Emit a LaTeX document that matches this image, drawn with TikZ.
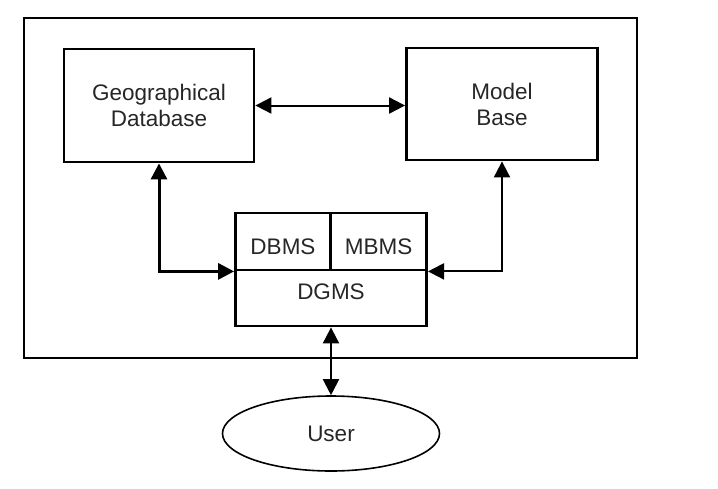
\documentclass[tikz,border=0pt]{standalone}
\usepackage{fontspec}
\setmainfont{Liberation Sans}
\usetikzlibrary{arrows.meta,shapes.geometric}
\begin{document}
\begin{tikzpicture}[x=1pt,y=-1pt,
  every node/.style={font=\fontsize{22.5}{26}\selectfont, text=black!85},
  box/.style={draw, line width=2.8pt, inner sep=0pt, align=center},
  arr/.style={line width=#1, {Triangle[length=16pt,width=16pt]}-{Triangle[length=16pt,width=16pt]}},
  arr/.default=2pt]
\useasboundingbox (0,0) rectangle (718,488);
\draw[line width=2.5pt] (24,18) rectangle (637,358);
\node[box, minimum width=190pt, minimum height=113pt] (geo) at (159,105.5) {Geographical\\Database};
\node[box, minimum width=191pt, minimum height=112pt] (model) at (502,104) {Model\\Base};
\node[box, minimum width=95pt, minimum height=57pt] (dbms) at (283,241.5) {};
\node[box, minimum width=96pt, minimum height=57pt] (mbms) at (378.6,241.5) {};
\node[box, minimum width=191pt, minimum height=56pt] (dgms) at (331,298) {};
\node[inner sep=0pt] (dbmstext) at (283,247) {DBMS};
\node[inner sep=0pt] (mbmstext) at (378.6,247) {MBMS};
\node[inner sep=0pt] (dgmstext) at (331,292) {DGMS};
\node[draw, ellipse, line width=1.6pt, inner sep=0pt, minimum width=217pt, minimum height=75pt] (user) at (331,433.5) {User};
\draw[arr=2pt] (geo.east) -- (geo.east -| model.west);
\draw[arr=3pt] (geo.south) |- (dbms.south west);
\draw[arr=2pt] (model.south) |- (mbms.south east);
\draw[arr=2pt] (dgms.south) -- (user.north);
\end{tikzpicture}
\end{document}
